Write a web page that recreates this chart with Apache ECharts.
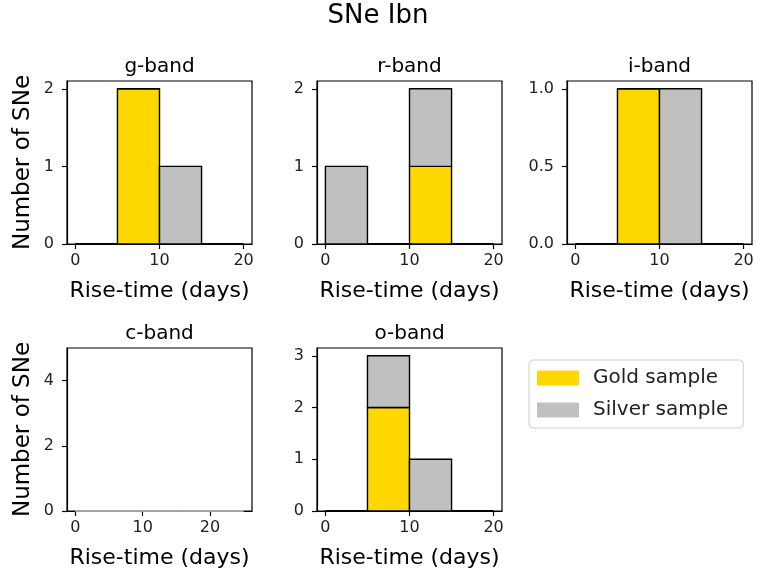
<!DOCTYPE html>
<html>
<head>
<meta charset="utf-8">
<script src="https://cdn.jsdelivr.net/npm/echarts@6/dist/echarts.min.js"></script>
<style>html,body{margin:0;padding:0;background:#fff;}#chart{width:757px;height:574px;}</style>
</head>
<body>
<div id="chart"></div>
<script>
// ---- data ----
const bandNames = ['g-band', 'r-band', 'i-band', 'c-band', 'o-band'];
const binWidth = 5;
const binStartsStd = [0, 5, 10, 15];
const binStartsC = [0, 5, 10, 15, 20];
const goldG = [0, 2, 0, 0];
const silverG = [0, 0, 1, 0];
const goldR = [0, 0, 1, 0];
const silverR = [1, 0, 1, 0];
const goldI = [0, 1, 0, 0];
const silverI = [0, 0, 1, 0];
const goldC = [0, 0, 0, 0, 0];
const silverC = [0, 0, 0, 0, 0];
const goldO = [0, 2, 0, 0];
const silverO = [0, 1, 1, 0];
const xTicks = [0, 10, 20];
const yTicksG = [0, 1, 2];
const yTicksR = [0, 1, 2];
const yTicksI = [0, 0.5, 1.0];
const yTicksC = [0, 2, 4];
const yTicksO = [0, 1, 2, 3];
const yMaxes = [2.1, 2.1, 1.05, 5, 3.15];
const xRanges = [[-1, 21], [-1, 21], [-1, 21], [-1.25, 26.25], [-1, 21]];

const panels = [
  {starts: binStartsStd, gold: goldG, silver: silverG, yTicks: yTicksG},
  {starts: binStartsStd, gold: goldR, silver: silverR, yTicks: yTicksR},
  {starts: binStartsStd, gold: goldI, silver: silverI, yTicks: yTicksI},
  {starts: binStartsC, gold: goldC, silver: silverC, yTicks: yTicksC},
  {starts: binStartsStd, gold: goldO, silver: silverO, yTicks: yTicksO}
];

// ---- layout ----
const FONT = 'DejaVu Sans';
const gridPos = [
  {left: 67, top: 81}, {left: 317, top: 81}, {left: 567, top: 81},
  {left: 67, top: 348}, {left: 317, top: 348}
];
const GW = 185, GH = 163;
const GOLD = '#FFD700', SILVER = '#C0C0C0';

function makeRender(fill, stroke) {
  return function (params, api) {
    const p0 = api.coord([api.value(0), api.value(3)]);
    const p1 = api.coord([api.value(1), api.value(2)]);
    return {
      type: 'rect',
      shape: {x: p0[0], y: p0[1], width: p1[0] - p0[0], height: p1[1] - p0[1]},
      style: {fill: fill, stroke: stroke, lineWidth: 1.4}
    };
  };
}

const grids = [], xAxes = [], yAxes = [], series = [], titles = [];
titles.push({text: 'SNe Ibn', left: 373, top: -2, textAlign: 'center',
  textStyle: {fontFamily: FONT, fontSize: 26, fontWeight: 'normal', color: '#000'}});

panels.forEach((p, i) => {
  const g = gridPos[i];
  grids.push({left: g.left, top: g.top, width: GW, height: GH, show: true,
    borderColor: '#000', borderWidth: 1.2, backgroundColor: 'transparent', containLabel: false});
  titles.push({text: bandNames[i], left: g.left + GW / 2 - 5, top: g.top - 29, textAlign: 'center',
    textStyle: {fontFamily: FONT, fontSize: 20, fontWeight: 'normal', color: '#000'}});
  xAxes.push({
    type: 'value', gridIndex: i, min: xRanges[i][0], max: xRanges[i][1],
    name: 'Rise-time (days)', nameLocation: 'middle', nameGap: 36,
    nameTextStyle: {fontFamily: FONT, fontSize: 22, color: '#000'},
    axisLine: {show: true, onZero: false, lineStyle: {color: '#000', width: 1.2}},
    axisTick: {show: true, inside: false, customValues: xTicks, length: 5, lineStyle: {color: '#000', width: 1.2}},
    axisLabel: {customValues: xTicks, fontFamily: FONT, fontSize: 16, color: '#222', margin: 9},
    splitLine: {show: false}
  });
  const isLeft = (i === 0 || i === 3);
  yAxes.push({
    type: 'value', gridIndex: i, min: 0, max: yMaxes[i],
    name: isLeft ? 'Number of SNe' : '', nameLocation: 'middle', nameGap: 32,
    nameTextStyle: {fontFamily: FONT, fontSize: 23, color: '#000'},
    axisLine: {show: true, onZero: false, lineStyle: {color: '#000', width: 1.2}},
    axisTick: {show: true, inside: false, customValues: p.yTicks, length: 5, lineStyle: {color: '#000', width: 1.2}},
    axisLabel: {customValues: p.yTicks, fontFamily: FONT, fontSize: 16, color: '#222', margin: 13,
      formatter: (v) => (i === 2 ? Number(v).toFixed(1) : String(v))},
    splitLine: {show: false}
  });
  const goldData = [], silverData = [];
  p.starts.forEach((s, k) => {
    goldData.push([s, s + binWidth, 0, p.gold[k]]);
    silverData.push([s, s + binWidth, p.gold[k], p.gold[k] + p.silver[k]]);
  });
  const stroke = (i === 3) ? '#aaa' : '#000';
  series.push({name: 'Gold sample', type: 'custom', xAxisIndex: i, yAxisIndex: i,
    renderItem: makeRender(GOLD, stroke), data: goldData, encode: {x: [0, 1], y: [2, 3]},
    itemStyle: {color: GOLD}, silent: true, clip: false});
  series.push({name: 'Silver sample', type: 'custom', xAxisIndex: i, yAxisIndex: i,
    renderItem: makeRender(SILVER, stroke), data: silverData, encode: {x: [0, 1], y: [2, 3]},
    itemStyle: {color: SILVER}, silent: true, clip: false});
});

const chart = echarts.init(document.getElementById('chart'), null, {renderer: 'canvas'});
chart.setOption({
  animation: false,
  backgroundColor: '#fff',
  title: titles,
  grid: grids,
  xAxis: xAxes,
  yAxis: yAxes,
  legend: {
    orient: 'vertical', left: 529, top: 360,
    data: [
      {name: 'Gold sample', icon: 'rect', itemStyle: {color: GOLD}},
      {name: 'Silver sample', icon: 'rect', itemStyle: {color: SILVER}}
    ],
    itemWidth: 42, itemHeight: 15, itemGap: 12,
    padding: [8, 15, 8, 8],
    borderColor: '#ccc', borderWidth: 1, borderRadius: 4,
    textStyle: {fontFamily: FONT, fontSize: 20, color: '#222', padding: [0, 0, 0, 9]},
    selectedMode: false
  },
  series: series
});
</script>
</body>
</html>
